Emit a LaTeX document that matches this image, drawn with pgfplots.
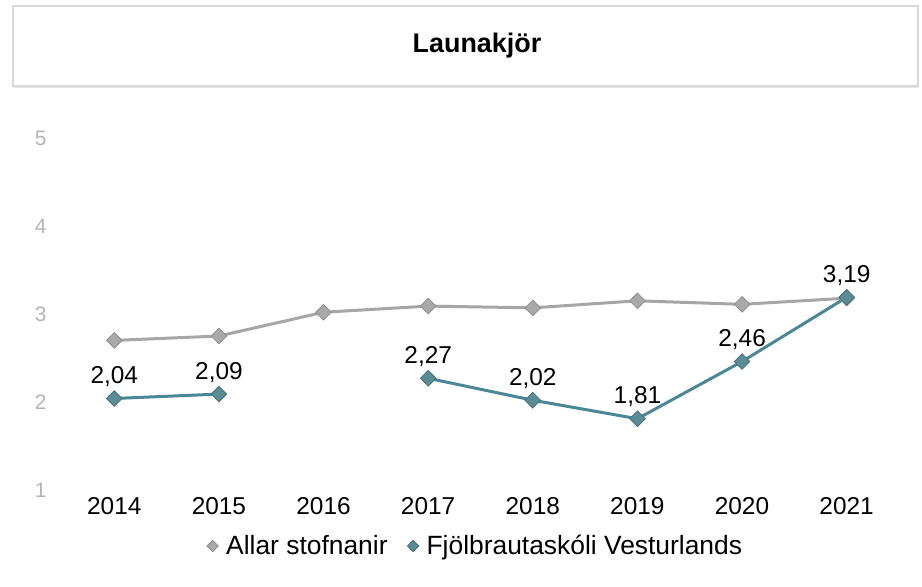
\documentclass[border=0pt]{standalone}
\usepackage{pgfplots}
\pgfplotsset{compat=1.18}
\usepackage{fontspec}
\setmainfont{Liberation Sans}
\definecolor{greyline}{HTML}{A6A6A6}
\definecolor{greymark}{HTML}{A9A9A9}
\definecolor{blueline}{HTML}{4B8797}
\definecolor{bluemark}{HTML}{5A8C96}
\definecolor{ticky}{HTML}{B4B4B4}
\begin{document}
\begin{tikzpicture}[x=1bp,y=1bp]
\path[use as bounding box] (0,0) rectangle (922,-587);
\draw[draw=black!15, line width=1.2bp] (13,-6) rectangle (918,-86);
\draw[draw=black!10, line width=1bp] (14,-88) -- (918,-88);
\node[anchor=base, font=\bfseries\fontsize{27}{32}\selectfont] at (477,-53) {Launakjör};
\begin{axis}[
  at={(62bp,-490bp)}, anchor=south west,
  scale only axis, width=837bp, height=352bp,
  xmin=2013.5, xmax=2021.5, ymin=1, ymax=5,
  axis line style={draw=none},
  major tick length=0pt,
  xtick={2014,...,2021},
  ytick={1,2,3,4,5},
  x tick label style={/pgf/number format/1000 sep={}},
  /pgf/number format/assume math mode=true,
  xticklabel style={font=\fontsize{24.5}{28}\selectfont, text=black, yshift=-4bp},
  yticklabel style={font=\fontsize{21}{24}\selectfont, text=ticky, xshift=-12bp},
  unbounded coords=jump,
  clip=false,
  legend columns=2,
  legend style={at={(axis description cs:0.493,-0.159)}, anchor=center, draw=none, fill=none,
    font=\fontsize{26.5}{30}\selectfont,
    /tikz/every even column/.append style={column sep=16bp}},
  legend image code/.code={\path (-6bp,0) (10bp,0); \path[#1, mark size=4bp] plot coordinates {(0bp,0bp)};},
]
\addplot[color=greyline, line width=3bp, mark=square*, mark size=5.5bp,
  mark options={rotate=45, fill=greymark, draw=greymark!85!black, line width=0.8bp}]
  coordinates {(2014,2.70) (2015,2.75) (2016,3.02) (2017,3.09) (2018,3.07) (2019,3.15) (2020,3.11) (2021,3.18)};
\addlegendentry{Allar stofnanir}
\addplot[color=blueline, line width=3bp, mark=square*, mark size=5.5bp,
  mark options={rotate=45, fill=bluemark, draw=bluemark!80!black, line width=0.8bp},
  nodes near coords, point meta=explicit,
  nodes near coords={\pgfmathprintnumber[fixed, fixed zerofill, precision=2, use comma]{\pgfplotspointmeta}},
  every node near coord/.append style={anchor=south, yshift=8bp, text=black, font=\fontsize{24.5}{28}\selectfont}]
  coordinates {(2014,2.04) [2.04] (2015,2.09) [2.09] (2016,nan) [0] (2017,2.27) [2.27] (2018,2.02) [2.02] (2019,1.81) [1.81] (2020,2.46) [2.46] (2021,3.19) [3.19]};
\addlegendentry{Fjölbrautaskóli Vesturlands}
\end{axis}
\end{tikzpicture}
\end{document}
